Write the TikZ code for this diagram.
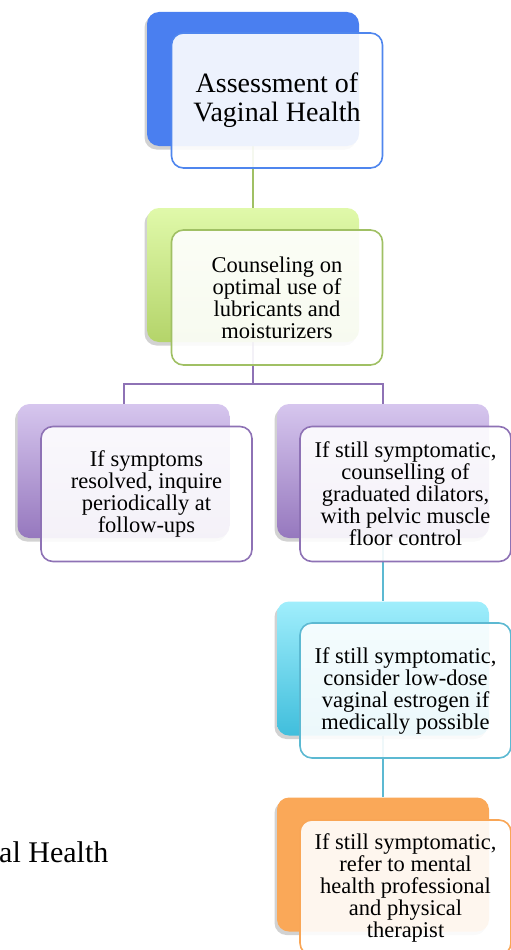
\documentclass[tikz,border=0pt]{standalone}
\usepackage{fontspec}
\setmainfont{Liberation Serif}
\usetikzlibrary{shadows,backgrounds}
\definecolor{blueback}{RGB}{74,127,240}
\definecolor{blueline}{RGB}{79,134,238}
\definecolor{greentop}{RGB}{224,249,170}
\definecolor{greenbot}{RGB}{180,212,106}
\definecolor{greenline}{RGB}{160,192,100}
\definecolor{purptop}{RGB}{214,198,238}
\definecolor{purpbot}{RGB}{150,120,190}
\definecolor{purpline}{RGB}{142,114,181}
\definecolor{cyantop}{RGB}{160,238,252}
\definecolor{cyanbot}{RGB}{64,190,220}
\definecolor{cyanline}{RGB}{92,185,210}
\definecolor{orangeback}{RGB}{250,168,88}
\definecolor{orangeline}{RGB}{249,166,86}
\begin{document}
\begin{tikzpicture}[x=1pt,y=-1pt,
  backbox/.style={rounded corners=12pt, minimum width=212pt, minimum height=134pt, inner sep=0pt,
    drop shadow={shadow xshift=-2.5pt, shadow yshift=-3.5pt, opacity=0.25, fill=black!70}},
  frontbox/.style={rounded corners=12pt, minimum width=211pt, minimum height=135pt, inner sep=2pt,
    line width=1.6pt, fill=white, fill opacity=0.9, text opacity=1, align=center,
    font=\fontsize{22.5}{22}\selectfont},
  conn/.style={line width=2pt}]
\useasboundingbox (0,0) rectangle (511,950);

% back boxes
\node[backbox, fill=blueback] (b1) at (253,79) {};
\node[backbox, top color=greentop, bottom color=greenbot] (b2) at (253,275) {};
\node[backbox, top color=purptop, bottom color=purpbot] (b3) at (123.5,471) {};
\node[backbox, top color=purptop, bottom color=purpbot] (b4) at (383,471) {};
\node[backbox, top color=cyantop, bottom color=cyanbot] (b5) at (383,668.5) {};
\node[backbox, fill=orangeback] (b6) at (383,864.5) {};

% front boxes
\node[frontbox, draw=blueline, font=\fontsize{28}{29}\selectfont] (f1) at (277,100.5) {Assessment of\\Vaginal Health};
\node[frontbox, draw=greenline] (f2) at (277,297.5) {Counseling on\\optimal use of\\lubricants and\\moisturizers};
\node[frontbox, draw=purpline] (f3) at (146.5,494) {If symptoms\\resolved, inquire\\periodically at\\follow-ups};
\node[frontbox, draw=purpline] (f4) at (405.5,494) {If still symptomatic,\\counselling of\\graduated dilators,\\with pelvic muscle\\floor control};
\node[frontbox, draw=cyanline] (f5) at (405.5,690.5) {If still symptomatic,\\consider low-dose\\vaginal estrogen if\\medically possible};
\node[frontbox, draw=orangeline] (f6) at (405.5,887.5) {If still symptomatic,\\refer to mental\\health professional\\and physical\\therapist};

% stray title text
\node[anchor=base west, inner sep=0pt, font=\fontsize{30}{32}\selectfont] (t) at (-1,862) {al Health};

% connectors
\begin{scope}[on background layer]
\draw[conn, greenline] (b1.south) -- (b2.north);
\draw[conn, purpline] (b2.south) -- ++(0,42) coordinate (j) -| (b3.north);
\draw[conn, purpline] (j) -| (b4.north);
\draw[conn, cyanline] (b4.south) -- (b5.north);
\draw[conn, cyanline] (b5.south) -- (b6.north);
\end{scope}
\end{tikzpicture}
\end{document}
